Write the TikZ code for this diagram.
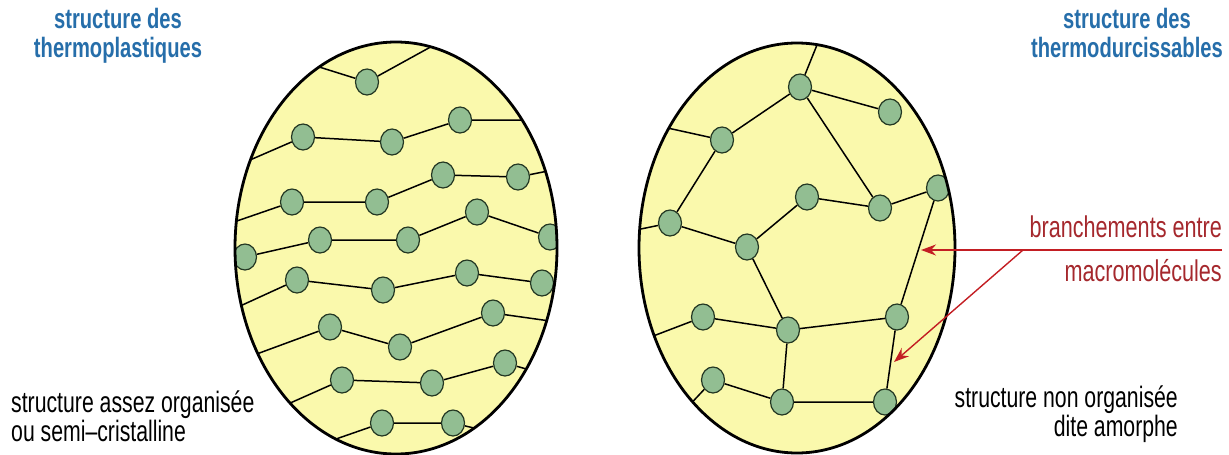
\documentclass[tikz,border=0pt]{standalone}
\usepackage{fontspec}
\setmainfont[FakeStretch=0.72]{Liberation Sans}
\usepackage{tikz}
\usetikzlibrary{shapes.geometric,arrows.meta}
\usepackage{xcolor}
\definecolor{shellyellow}{RGB}{250,249,172}
\definecolor{beadgreen}{RGB}{146,190,146}
\definecolor{beadline}{RGB}{35,55,35}
\definecolor{titleblue}{RGB}{38,110,170}
\definecolor{branchred}{RGB}{195,30,35}
\definecolor{branchtext}{RGB}{165,40,45}

\begin{document}
\begin{tikzpicture}[x=1pt, y=-1pt,
    bead/.style={ellipse, draw=beadline, fill=beadgreen, line width=1.2pt,
        minimum width=23pt, minimum height=26pt, inner sep=0pt},
    chain/.style={line width=1.5pt},
    shell/.style={line width=2.8pt},
    titletext/.style={text=titleblue, font=\fontsize{28}{29}\selectfont\bfseries,
        align=center, inner sep=0pt},
    captext/.style={font=\fontsize{29.5}{27}\selectfont, inner sep=0pt},
    redtext/.style={text=branchtext, font=\fontsize{30}{30}\selectfont, inner sep=0pt},
    branch/.style={draw=branchred, line width=1.7pt},
    >={Stealth[length=15pt, width=11pt]}
]
\useasboundingbox (0,0) rectangle (1229,455);

% thermoplastiques: chaines alignees
\begin{scope}
\clip (396,248) ellipse [x radius=161pt, y radius=206pt];
\fill[shellyellow] (396,248) ellipse [x radius=161pt, y radius=206pt];
\coordinate (s1) at (316,66);  \node[bead] (r1a) at (367,82) {};  \coordinate (e1) at (436,44);
\coordinate (s2) at (250,160); \node[bead] (r2a) at (303,137) {}; \node[bead] (r2b) at (392,142) {};
\node[bead] (r2c) at (460,120) {}; \coordinate (e2) at (522,120);
\coordinate (s3) at (234,222); \node[bead] (r3a) at (292,202) {}; \node[bead] (r3b) at (377,202) {};
\node[bead] (r3c) at (443,175) {}; \node[bead] (r3d) at (518,177) {}; \coordinate (e3) at (548,171);
\node[bead] (r4a) at (245,257) {}; \node[bead] (r4b) at (320,240) {}; \node[bead] (r4c) at (408,240) {};
\node[bead] (r4d) at (477,212) {}; \node[bead] (r4e) at (550,237) {};
\coordinate (s5) at (238,307); \node[bead] (r5a) at (297,280) {}; \node[bead] (r5b) at (383,290) {};
\node[bead] (r5c) at (467,273) {}; \node[bead] (r5d) at (542,283) {};
\coordinate (s6) at (254,355); \node[bead] (r6a) at (330,327) {}; \node[bead] (r6b) at (400,347) {};
\node[bead] (r6c) at (493,313) {}; \coordinate (e6) at (550,321);
\coordinate (s7) at (288,404); \node[bead] (r7a) at (342,380) {}; \node[bead] (r7b) at (432,383) {};
\node[bead] (r7c) at (505,363) {}; \coordinate (e7) at (530,370);
\coordinate (s8) at (336,439); \node[bead] (r8a) at (382,423) {}; \node[bead] (r8b) at (453,423) {};
\coordinate (e8) at (478,429);
\draw[chain] (s1) -- (r1a) -- (e1);
\draw[chain] (s2) -- (r2a) -- (r2b) -- (r2c) -- (e2);
\draw[chain] (s3) -- (r3a) -- (r3b) -- (r3c) -- (r3d) -- (e3);
\draw[chain] (r4a) -- (r4b) -- (r4c) -- (r4d) -- (r4e);
\draw[chain] (s5) -- (r5a) -- (r5b) -- (r5c) -- (r5d);
\draw[chain] (s6) -- (r6a) -- (r6b) -- (r6c) -- (e6);
\draw[chain] (s7) -- (r7a) -- (r7b) -- (r7c) -- (e7);
\draw[chain] (s8) -- (r8a) -- (r8b) -- (e8);
\end{scope}
\draw[shell] (396,248) ellipse [x radius=161pt, y radius=206pt];

% thermodurcissables: reseau
\begin{scope}
\clip (797,248) ellipse [x radius=158pt, y radius=205pt];
\fill[shellyellow] (797,248) ellipse [x radius=158pt, y radius=205pt];
\node[bead] (m1) at (800,87) {};
\node[bead] (m2) at (890,112) {};
\node[bead] (m3) at (722,140) {};
\node[bead] (m4) at (670,223) {};
\node[bead] (m5) at (807,197) {};
\node[bead] (m6) at (880,208) {};
\node[bead] (m7) at (938,188) {};
\node[bead] (m8) at (747,247) {};
\node[bead] (m9) at (703,317) {};
\node[bead] (m10) at (788,330) {};
\node[bead] (m11) at (897,317) {};
\node[bead] (m12) at (713,380) {};
\node[bead] (m13) at (782,402) {};
\node[bead] (m14) at (885,402) {};
\coordinate (top) at (819,40);
\coordinate (left3) at (663,127);
\coordinate (left4) at (636,230);
\coordinate (left9) at (648,338);
\coordinate (left12) at (684,411);
\draw[chain] (top) -- (m1) -- (m2);
\draw[chain] (left3) -- (m3) -- (m1) -- (m6) -- (m7) -- (m11) -- (m14) -- (m13) -- (m12) -- (left12);
\draw[chain] (m3) -- (m4) -- (left4);
\draw[chain] (m4) -- (m8) -- (m5) -- (m6);
\draw[chain] (m8) -- (m10) -- (m11);
\draw[chain] (left9) -- (m9) -- (m10) -- (m13);
\end{scope}
\draw[shell] (797,248) ellipse [x radius=158pt, y radius=205pt];

\coordinate (branchend) at (1222,250);
\coordinate (fork) at (1023,250);
\coordinate (hitupper) at (921,250);
\coordinate (hitlower) at (894,362);
\draw[branch, ->] (branchend) -- (hitupper);
\draw[branch, ->, line width=1.4pt] (fork) -- (hitlower);

\node[titletext, anchor=north] (thermotitle) at (118,8) {structure des\\thermoplastiques};
\node[titletext, anchor=north] (durotitle) at (1127,8) {structure des\\thermodurcissables};
\node[captext, anchor=north west, align=left] (thermocap) at (11,391) {structure assez organisée\\ou semi--cristalline};
\node[captext, anchor=north east, align=right] (durocap) at (1178,386) {structure non organisée\\dite amorphe};
\node[redtext, anchor=base east] (branchtxt) at (1222,237) {branchements entre};
\node[redtext, anchor=base east] (macrotxt) at (1222,281) {macromolécules};
\end{tikzpicture}
\end{document}
